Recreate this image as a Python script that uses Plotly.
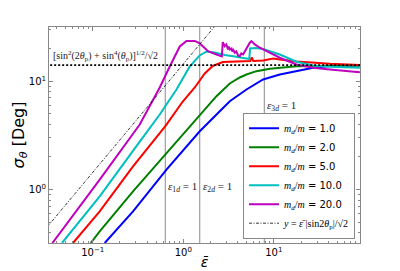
import math
import plotly.graph_objects as go

# ---- data ----
ratios = ["1.0", "2.0", "5.0", "10.0", "20.0"]
colors = ["#0000ff", "#008000", "#ff0000", "#00bfbf", "#bf00bf"]

eps_r1 = [0.1357, 0.2788, 0.6522, 1.521, 2.406, 3.265, 4.992, 7.616, 11.65, 17.82, 27.19, 41.57, 89.2]
sig_r1 = [0.322, 0.6303, 1.530, 3.453, 5.065, 6.536, 8.382, 10.37, 11.53, 12.37, 13.30, 13.81, 13.96]

eps_r2 = [0.09504, 0.1195, 0.2788, 0.6522, 1.521, 2.327, 3.265, 4.210, 4.992, 6.440, 9.034, 17.82, 89.2]
sig_r2 = [0.322, 0.4121, 0.9645, 2.183, 4.926, 7.269, 9.523, 10.82, 11.53, 12.37, 13.02, 13.76, 13.96]

eps_r5 = [0.06058, 0.1195, 0.2788, 0.6406, 0.9874, 1.340, 1.728, 2.118, 2.733, 4.210, 5.500, 5.713,
          5.935, 7.616, 9.824, 11.65, 17.82, 41.57, 89.2]
sig_r5 = [0.322, 0.6303, 1.641, 3.899, 6.494, 8.745, 11.78, 13.81, 15.04, 15.37, 15.37, 16.56,
          15.37, 15.53, 16.20, 15.86, 15.20, 14.48, 14.11]

eps_r10 = [0.04578, 0.1195, 0.3306, 0.5499, 0.8412, 0.9949, 1.180, 1.521, 1.805, 2.229, 2.875, 3.708,
           4.781, 5.362, 5.472, 6.326, 7.616, 11.65, 17.82, 27.19, 41.57, 89.2]
sig_r10 = [0.322, 0.8672, 2.775, 4.926, 8.382, 10.82, 13.67, 17.28, 18.80, 18.41, 17.46, 16.91,
           16.38, 16.03, 20.04, 20.26, 19.83, 17.64, 15.11, 13.96, 13.58, 13.30]

eps_r20 = [0.0359, 0.1195, 0.3306, 0.4264, 0.5499, 0.7094, 0.9149, 1.085, 1.340, 1.521, 1.879, 2.327,
           2.664, 2.733, 2.875, 2.987, 3.064, 3.126, 3.183, 3.265, 3.409, 3.478, 3.568, 3.708, 3.851,
           4.032, 4.210, 4.375, 4.579, 4.781, 4.992, 5.226, 5.430, 5.670, 6.167, 7.004, 7.616, 11.65,
           17.82, 27.19, 41.57, 89.2]
sig_r20 = [0.322, 1.237, 3.983, 5.84, 8.745, 13.67, 20.91, 23.50, 23.50, 22.29, 18.92, 17.64,
           16.91, 22.91, 21.05, 21.83, 20.47, 19.62, 20.91, 19.62, 20.04, 18.80, 19.42, 18.29, 18.80,
           17.28, 17.02, 18.02, 17.64, 18.80, 19.62, 20.91, 22.62, 23.40, 21.83, 20.34, 19.62, 16.45,
           14.26, 13.30, 12.82, 12.11]

eps_series = [eps_r1, eps_r2, eps_r5, eps_r10, eps_r20]
sig_series = [sig_r1, sig_r2, sig_r5, sig_r10, sig_r20]

eps_crit = [0.6325, 1.521, 7.85]          # eps_1d, eps_2d, eps_3d = 1
crit_names = ["1<i>d</i>", "2<i>d</i>", "3<i>d</i>"]
crit_label_sigma = [1.066, 1.066, 5.9]
sigma_iso = 14.05                          # [sin^2(2θp)+sin^4(θp)]^(1/2)/√2
k_diag = 14.4                              # |sin2θp|/√2 in degrees
diag_eps = [0.02, 5.0]

x_range = [0.0329, 89.5]
y_range = [0.322, 31.6]

SERIF = "Liberation Serif"
SANS = "DejaVu Sans"

fig = go.Figure()

for e in eps_crit:
    fig.add_trace(go.Scatter(x=[e, e], y=[0.1, 100], mode="lines",
                             line=dict(color="#8a8a8a", width=1), showlegend=False, hoverinfo="skip"))

for r, c, ex, sy in zip(ratios, colors, eps_series, sig_series):
    name = ('<span style="font-family:Liberation Serif"><i>m<sub>d</sub></i>/<i>m</i></span> = ' + r)
    fig.add_trace(go.Scatter(x=ex, y=sy, mode="lines", name=name,
                             line=dict(color=c, width=2)))

fig.add_trace(go.Scatter(x=diag_eps, y=[k_diag * e for e in diag_eps], mode="lines",
                         name='<span style="font-family:Liberation Serif"><i>y</i> = <i>ε̄</i> |sin2<i>θ</i><sub>p</sub>|/√2</span>',
                         line=dict(color="black", width=0.8, dash="3px,1.5px,1px,1.5px")))

fig.add_trace(go.Scatter(x=[0.01, 1000], y=[sigma_iso, sigma_iso], mode="lines",
                         line=dict(color="black", width=1.6, dash="2px,2px"), showlegend=False,
                         hoverinfo="skip"))

annotations = []
for e, n, s in zip(eps_crit, crit_names, crit_label_sigma):
    annotations.append(dict(x=math.log10(e), y=math.log10(s), xref="x", yref="y",
                            text="<i>ε</i><sub>" + n + "</sub> = 1", showarrow=False,
                            xanchor="left", yanchor="middle", xshift=1,
                            font=dict(family=SERIF, size=11, color="#222")))
annotations.append(dict(x=0.008, y=math.log10(sigma_iso), xref="paper", yref="y",
                        text="[sin<sup>2</sup>(2<i>θ</i><sub>p</sub>) + sin<sup>4</sup>(<i>θ</i><sub>p</sub>)]<sup>1/2</sup>/√2",
                        showarrow=False, xanchor="left", yanchor="bottom", yshift=0,
                        font=dict(family=SERIF, size=10, color="#222")))

def minor_vals(lo, hi):
    vals = []
    for d in range(lo, hi):
        for m in range(2, 10):
            vals.append(m * 10 ** d)
    return vals

axis_common = dict(type="log", showline=True, linecolor="#888", linewidth=1, mirror="allticks",
                   ticks="inside", ticklen=4, tickcolor="#888", showgrid=False, zeroline=False,
                   tickfont=dict(family=SANS, size=10, color="black"))

fig.update_layout(
    width=400, height=271,
    margin=dict(l=49, r=40, t=27, b=28, pad=0),
    paper_bgcolor="white", plot_bgcolor="white",
    xaxis=dict(range=[math.log10(x_range[0]), math.log10(x_range[1])],
               tickmode="array", tickvals=[0.1, 1, 10],
               ticktext=["10<sup>−1</sup>", "10<sup>0</sup>", "10<sup>1</sup>"],
               minor=dict(tickmode="array", tickvals=minor_vals(-2, 2), ticks="inside",
                          ticklen=2, tickcolor="#888", showgrid=False),
               title=dict(text="<i>ε̄</i>", font=dict(family=SANS, size=14, color="black"), standoff=0),
               automargin=False, **axis_common),
    yaxis=dict(range=[math.log10(y_range[0]), math.log10(y_range[1])],
               tickmode="array", tickvals=[1, 10],
               ticktext=["10<sup>0</sup>", "10<sup>1</sup>"],
               minor=dict(tickmode="array", tickvals=minor_vals(-1, 2), ticks="inside",
                          ticklen=2, tickcolor="#888", showgrid=False),
               title=dict(text="<i>σ</i><sub><i>θ</i></sub> [Deg]", font=dict(family=SANS, size=16, color="black"),
                          standoff=0),
               automargin=False, **axis_common),
    legend=dict(x=0.984, xanchor="right", y=0.02, yanchor="bottom",
                bgcolor="white", bordercolor="#888", borderwidth=1,
                font=dict(family=SANS, size=10, color="black")),
    annotations=annotations,
    showlegend=True,
)

fig.write_html("out.html", config={"displayModeBar": False},
               post_script="document.body.style.margin='0px';")
